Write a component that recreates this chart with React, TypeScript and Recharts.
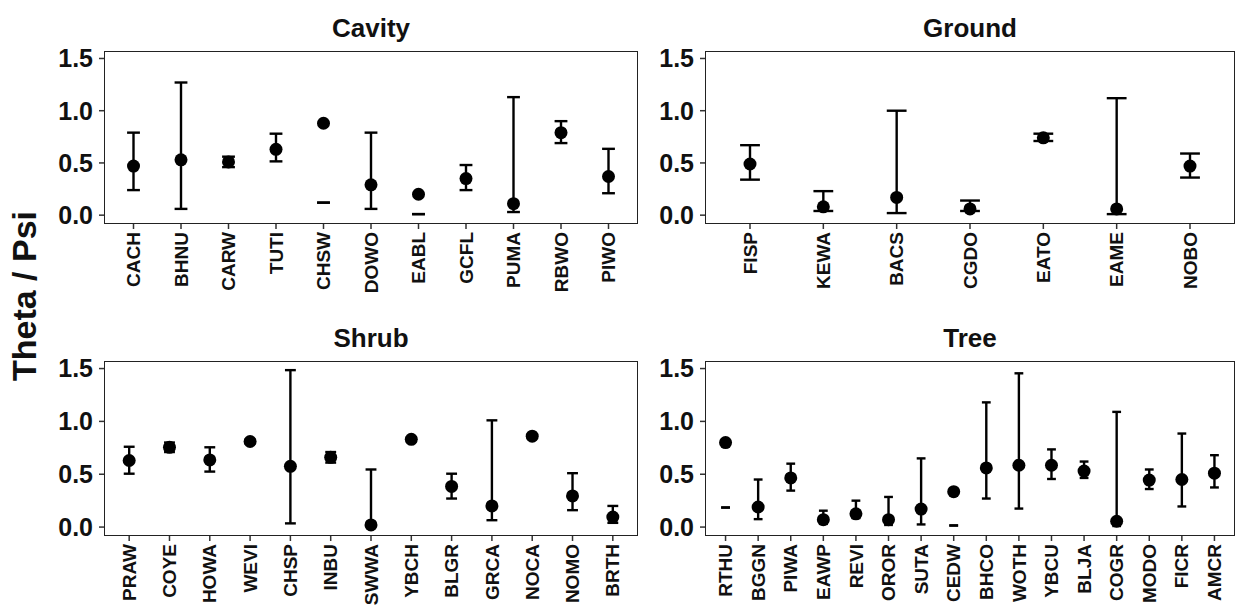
import { ComposedChart, Scatter, ErrorBar, XAxis, YAxis } from "recharts";

const FONT = '"Liberation Sans", Arial, Helvetica, sans-serif';
const PAGE_W = 1238;
const PAGE_H = 611;

// Cavity nesters
const cavSp = ["CACH", "BHNU", "CARW", "TUTI", "CHSW", "DOWO", "EABL", "GCFL", "PUMA", "RBWO", "PIWO"];
const cavEst = [0.47, 0.53, 0.51, 0.63, 0.88, 0.29, 0.2, 0.35, 0.11, 0.79, 0.37];
const cavLo = [0.24, 0.06, 0.46, 0.515, 0.12, 0.06, 0.01, 0.24, 0.03, 0.69, 0.21];
const cavHi = [0.79, 1.27, 0.56, 0.78, 0.12, 0.79, 0.01, 0.48, 1.13, 0.9, 0.635];

// Ground nesters
const grdSp = ["FISP", "KEWA", "BACS", "CGDO", "EATO", "EAME", "NOBO"];
const grdEst = [0.49, 0.08, 0.17, 0.06, 0.74, 0.06, 0.47];
const grdLo = [0.34, 0.04, 0.02, 0.04, 0.71, 0.01, 0.36];
const grdHi = [0.67, 0.23, 1.0, 0.14, 0.78, 1.12, 0.59];

// Shrub nesters
const shrSp = ["PRAW", "COYE", "HOWA", "WEVI", "CHSP", "INBU", "SWWA", "YBCH", "BLGR", "GRCA", "NOCA", "NOMO", "BRTH"];
const shrEst = [0.63, 0.755, 0.635, 0.81, 0.575, 0.66, 0.02, 0.83, 0.385, 0.2, 0.86, 0.295, 0.095];
const shrLo = [0.505, 0.71, 0.525, 0.79, 0.035, 0.61, 0.0, 0.81, 0.27, 0.065, 0.845, 0.16, 0.04];
const shrHi = [0.76, 0.8, 0.755, 0.83, 1.485, 0.71, 0.545, 0.85, 0.505, 1.01, 0.875, 0.51, 0.2];

// Tree nesters
const treSp = ["RTHU", "BGGN", "PIWA", "EAWP", "REVI", "OROR", "SUTA", "CEDW", "BHCO", "WOTH", "YBCU", "BLJA", "COGR", "MODO", "FICR", "AMCR"];
const treEst = [0.8, 0.19, 0.465, 0.07, 0.125, 0.07, 0.17, 0.335, 0.56, 0.585, 0.585, 0.53, 0.055, 0.445, 0.45, 0.51];
const treLo = [0.185, 0.075, 0.345, 0.03, 0.085, 0.02, 0.025, 0.015, 0.27, 0.175, 0.455, 0.465, 0.01, 0.36, 0.195, 0.375];
const treHi = [0.185, 0.45, 0.6, 0.155, 0.25, 0.285, 0.65, 0.015, 1.18, 1.455, 0.735, 0.62, 1.09, 0.545, 0.885, 0.68];

const yTicks = [0, 0.5, 1.0, 1.5];
const yDomain = [-0.075, 1.562];

type Frame = { left: number; top: number; right: number; bottom: number };

const XTick = (props: any) => {
  const { x, y, payload } = props;
  return (
    <text
      x={x}
      y={y}
      transform={`rotate(-90, ${x}, ${y})`}
      textAnchor="end"
      dy="0.35em"
      fontSize={19}
      fontWeight="bold"
      fill="#111"
      fontFamily={FONT}
    >
      {payload.value}
    </text>
  );
};

const Dot = (props: any) => <circle cx={props.cx} cy={props.cy} r={6.5} fill="#000" />;

function Panel({ frame, sp, est, lo, hi }: { frame: Frame; sp: string[]; est: number[]; lo: number[]; hi: number[] }) {
  const data = sp.map((s, i) => ({ sp: s, est: est[i], err: [est[i] - lo[i], hi[i] - est[i]] }));
  const w = frame.right - frame.left;
  const step = w / (sp.length - 1 + 1.2);
  const pad = step * 0.6;
  const yAxisW = 100;
  const xAxisH = 70;
  return (
    <>
      <div style={{ position: "absolute", left: 0, top: 0 }}>
        <ComposedChart
          width={PAGE_W}
          height={PAGE_H}
          data={data}
          margin={{
            left: frame.left - yAxisW,
            top: frame.top,
            right: PAGE_W - frame.right,
            bottom: PAGE_H - frame.bottom - xAxisH,
          }}
        >
          <XAxis
            dataKey="sp"
            type="category"
            scale="point"
            interval={0}
            padding={{ left: pad, right: pad }}
            height={xAxisH}
            axisLine={false}
            tickSize={6}
            tickMargin={3}
            tickLine={{ stroke: "#333", strokeWidth: 1.5 }}
            tick={<XTick />}
          />
          <YAxis
            type="number"
            domain={yDomain}
            ticks={yTicks}
            allowDataOverflow
            width={yAxisW}
            axisLine={false}
            tickSize={6}
            tickMargin={6}
            tickLine={{ stroke: "#333", strokeWidth: 1.5 }}
            tickFormatter={(v: number) => v.toFixed(1)}
            tick={{ fontSize: 25, fontWeight: "bold", fill: "#111", fontFamily: FONT }}
          />
          <Scatter dataKey="est" shape={<Dot />} isAnimationActive={false}>
            <ErrorBar
              dataKey="err"
              direction="y"
              width={step * 0.135}
              stroke="#000"
              strokeWidth={2.4}
              isAnimationActive={false}
            />
          </Scatter>
        </ComposedChart>
      </div>
      <div
        style={{
          position: "absolute",
          left: frame.left - 0.75,
          top: frame.top - 0.75,
          width: w + 1.5,
          height: frame.bottom - frame.top + 1.5,
          border: "1.5px solid #222",
          boxSizing: "border-box",
          pointerEvents: "none",
        }}
      />
    </>
  );
}

const cavFrame: Frame = { left: 105, top: 52, right: 637, bottom: 223 };
const grdFrame: Frame = { left: 706, top: 52, right: 1234, bottom: 223 };
const shrFrame: Frame = { left: 105, top: 362, right: 637, bottom: 535 };
const treFrame: Frame = { left: 706, top: 362, right: 1234, bottom: 535 };

export default function App() {
  const titleStyle = { fontSize: 26, fontWeight: "bold" as const, fill: "#111", fontFamily: FONT };
  return (
    <div style={{ position: "absolute", left: 0, top: 0, width: PAGE_W, height: PAGE_H, background: "#fff", overflow: "hidden" }}>
      <Panel frame={cavFrame} sp={cavSp} est={cavEst} lo={cavLo} hi={cavHi} />
      <Panel frame={grdFrame} sp={grdSp} est={grdEst} lo={grdLo} hi={grdHi} />
      <Panel frame={shrFrame} sp={shrSp} est={shrEst} lo={shrLo} hi={shrHi} />
      <Panel frame={treFrame} sp={treSp} est={treEst} lo={treLo} hi={treHi} />
      <svg width={PAGE_W} height={PAGE_H} style={{ position: "absolute", left: 0, top: 0, pointerEvents: "none" }}>
        <text x={(cavFrame.left + cavFrame.right) / 2} y={37} textAnchor="middle" {...titleStyle}>Cavity</text>
        <text x={(grdFrame.left + grdFrame.right) / 2} y={37} textAnchor="middle" {...titleStyle}>Ground</text>
        <text x={(shrFrame.left + shrFrame.right) / 2} y={347} textAnchor="middle" {...titleStyle}>Shrub</text>
        <text x={(treFrame.left + treFrame.right) / 2} y={347} textAnchor="middle" {...titleStyle}>Tree</text>
        <text
          x={36}
          y={296}
          transform="rotate(-90, 36, 296)"
          textAnchor="middle"
          fontSize={34}
          fontWeight="bold"
          fill="#111"
          fontFamily={FONT}
        >
          Theta / Psi
        </text>
      </svg>
    </div>
  );
}
